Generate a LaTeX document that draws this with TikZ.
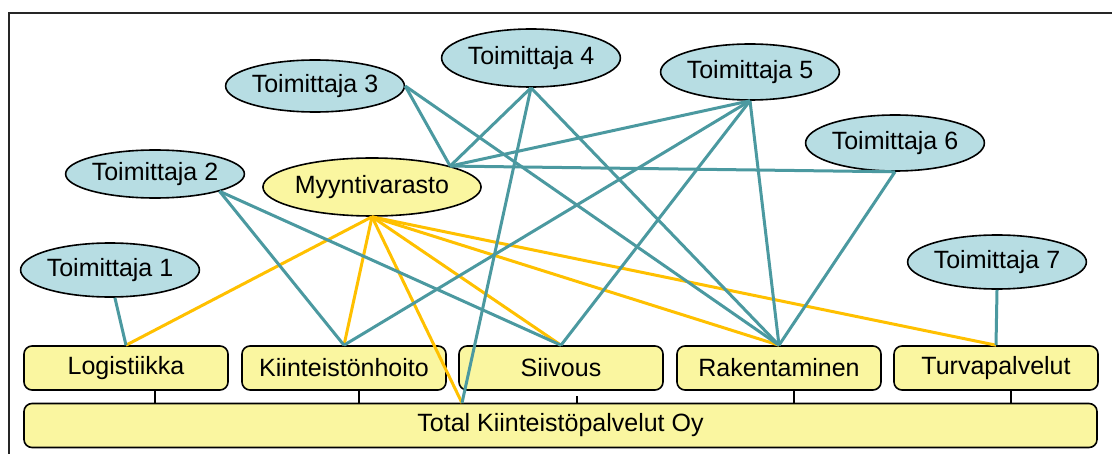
\documentclass[tikz,border=0pt]{standalone}
\usepackage{fontspec}
\setmainfont{Liberation Sans}
\usetikzlibrary{shapes.geometric}
\definecolor{tealfill}{HTML}{B7DDE3}
\definecolor{yelfill}{HTML}{FAF6A0}
\definecolor{tealline}{HTML}{4B99A0}
\definecolor{goldline}{HTML}{FFC000}
\tikzset{
  supplier/.style={ellipse, draw=black, line width=0.8pt, fill=tealfill, inner sep=0pt,
    minimum width=88pt, minimum height=27pt, font=\fontsize{12.5}{14}\selectfont},
  store/.style={supplier, fill=yelfill, minimum width=102pt, minimum height=29pt},
  unitbox/.style={rectangle, rounded corners=4pt, draw=black, line width=0.8pt, fill=yelfill,
    inner sep=0pt, minimum width=102pt, minimum height=22pt, font=\fontsize{12.5}{14}\selectfont},
  tline/.style={draw=tealline, line width=1.5pt},
  gline/.style={draw=goldline, line width=1.5pt},
  tickline/.style={draw=black, line width=1pt},
  framel/.style={draw=black!85, line width=1pt}
}
\begin{document}
\begin{tikzpicture}[x=0.5pt,y=-0.5pt]
\useasboundingbox (0,0) rectangle (1112,454);
\draw[framel] (9,454) -- (9,13) -- (1112,13);

% suppliers
\node[supplier] (t1) at (110,270) {Toimittaja 1};
\node[supplier, minimum height=24pt] (t2) at (155,174) {Toimittaja 2};
\node[supplier, minimum height=26pt] (t3) at (315,86) {Toimittaja 3};
\node[supplier, minimum width=85pt, minimum height=29pt] (t4) at (531,58) {Toimittaja 4};
\node[supplier, minimum height=28pt] (t5) at (750,72) {Toimittaja 5};
\node[supplier, minimum height=28pt] (t6) at (895,143) {Toimittaja 6};
\node[supplier] (t7) at (997,262) {Toimittaja 7};
\node[store] (my) at (372,187) {Myyntivarasto};

% units
\node[unitbox] (log) at (126,368) {Logistiikka};
\node[unitbox] (kii) at (344,368) {Kiinteistönhoito};
\node[unitbox] (sii) at (561,368) {Siivous};
\node[unitbox] (rak) at (779,368) {Rakentaminen};
\node[unitbox] (tur) at (996,368) {Turvapalvelut};
\node[unitbox, minimum width=536.5pt] (total) at (560.5,425.5) {Total Kiinteistöpalvelut Oy};
\coordinate (tkp) at (462,403);

% ticks to company box
\draw[tickline] ([xshift=14.5pt]log.south) -- ([xshift=14.5pt]log.south |- total.north);
\draw[tickline] ([xshift=7.5pt]kii.south) -- ([xshift=7.5pt]kii.south |- total.north);
\draw[tickline] ([xshift=8pt]sii.south |- total.north) -- ++(0,-7);
\draw[tickline] ([xshift=7.5pt]rak.south) -- ([xshift=7.5pt]rak.south |- total.north);
\draw[tickline] ([xshift=7.5pt]tur.south) -- ([xshift=7.5pt]tur.south |- total.north);

% gold lines from Myyntivarasto
\draw[gline] (my.south) -- (log.north);
\draw[gline] (my.south) -- (kii.north);
\draw[gline] (my.south) -- (tkp);
\draw[gline] (my.south) -- (sii.north);
\draw[gline] (my.south) -- (rak.north);
\draw[gline] (my.south) -- (tur.north);

% teal lines from suppliers
\draw[tline] (t1.-80) -- (log.north);
\draw[tline] (t2.-15) -- (kii.north);
\draw[tline] (t2.-15) -- (sii.north);
\draw[tline] (t3.east) -- (my.15);
\draw[tline] (t3.east) -- (rak.north);
\draw[tline] (t4.south) -- (my.15);
\draw[tline] (t4.south) -- (tkp);
\draw[tline] (t4.south) -- (rak.north);
\draw[tline] (t5.south) -- (my.15);
\draw[tline] (t5.south) -- (kii.north);
\draw[tline] (t5.south) -- (sii.north);
\draw[tline] (t5.south) -- (rak.north);
\draw[tline] (t6.south) -- (my.15);
\draw[tline] (t6.south) -- (rak.north);
\draw[tline] (t7.south) -- (tur.north);
\end{tikzpicture}
\end{document}
